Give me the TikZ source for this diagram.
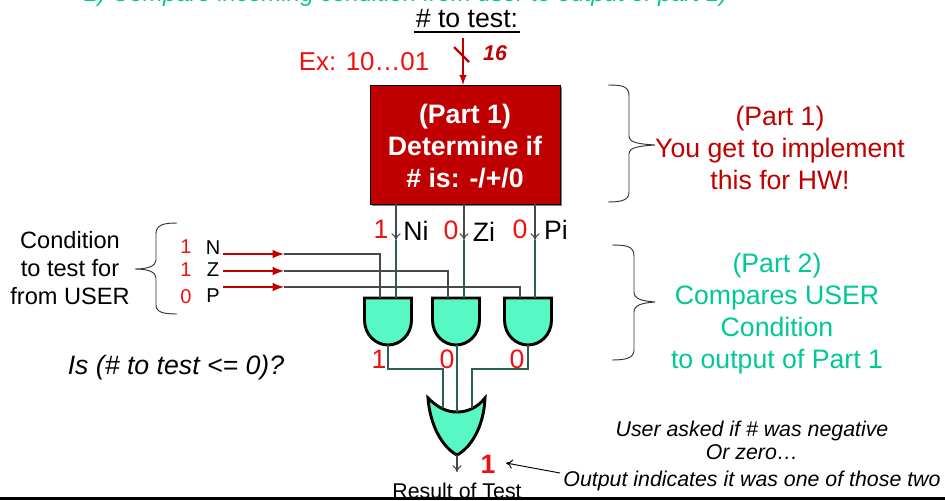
\documentclass[tikz,border=0pt]{standalone}
\usepackage{fontspec}
\usepackage{xcolor}
\setmainfont{Liberation Sans}
\usetikzlibrary{positioning, calc, arrows.meta}
\definecolor{boxred}{HTML}{C00000}
\definecolor{txtred}{HTML}{F01010}
\definecolor{teal}{HTML}{00C896}
\definecolor{gatefill}{HTML}{57F8C4}
\definecolor{wiregreen}{HTML}{2A5F58}
\definecolor{wiregray}{HTML}{484848}

\tikzset{
  >={To[length=5pt, width=7pt]},
  big/.style={font=\fontsize{20}{24}\selectfont, align=center, inner sep=0pt},
  mid/.style={font=\fontsize{17.7}{21}\selectfont, align=center, inner sep=0pt},
  small/.style={font=\fontsize{15}{18}\selectfont, inner sep=0pt},
  redval/.style={font=\fontsize{20}{22}\selectfont, text=txtred, inner sep=0pt},
  flagval/.style={font=\fontsize{15}{17}\selectfont, text=txtred, inner sep=0pt},
  gate/.style={draw=black, line width=2.2pt, fill=gatefill, line join=miter},
  wire/.style={draw=wiregray, line width=0.8pt},
  greenwire/.style={draw=wiregreen, line width=1pt},
  redwire/.style={draw=boxred, line width=1.9pt, -latex},
  bracket/.style={draw=black!80, line width=0.7pt},
  andgate/.pic={
    \path[gate] (-23.5,0) -- (23.5,0) -- (23.5,22)
      .. controls (23.5,37) and (12,47) .. (0,47)
      .. controls (-12,47) and (-23.5,37) .. (-23.5,22) -- cycle;
    \coordinate (-a) at (-8,0);
    \coordinate (-b) at (8,0);
    \coordinate (-out) at (0,47);
  }
}

\begin{document}
\begin{tikzpicture}[x=0.75pt, y=-0.75pt]
  \useasboundingbox (0,0) rectangle (945,500);

  % Titel oben
  \node[big, text=teal, font=\fontsize{18}{21}\itshape\selectfont] (title) at (406,-5) {2) Compare incoming condition from user to output of part 1)};

  % Eingang
  \node[big] (numtest) at (467,19) {\# to test:};
  \draw[line width=1.5pt] (414,32) -- (520,32);
  \node[big, text=txtred, font=\fontsize{19.4}{22}\selectfont] (example) at (364,62) {Ex: 10…01};
  \node[small, text=boxred, font=\fontsize{16}{18}\bfseries\itshape\selectfont] (width) at (495,53) {16};

  % Part 1 Box
  \fill[gray] (372,87) rectangle (562,206);
  \node[draw=black, fill=boxred, minimum width=142.5pt, minimum height=89pt, inner sep=0pt] (partone) at (465,144.5) {};
  \node[text=white, inner sep=0pt, font=\fontsize{20}{24}\bfseries\selectfont, align=center] (partlabel) at (465,146.5) {(Part 1)\\Determine if\\\# is: -/+/0};

  \coordinate (inp) at (463,38);
  \draw[redwire, line width=1.6pt] (inp) -- (inp |- partone.north);
  \coordinate (slasha) at (454,47);
  \coordinate (slashb) at (469,62);
  \draw[draw=boxred, line width=1.6pt] (slasha) -- (slashb);

  % Gatter
  \pic (gateN) at (388,298) {andgate};
  \pic (gateZ) at (456,298) {andgate};
  \pic (gateP) at (528,298) {andgate};

  % Ausgaenge von Part 1
  \coordinate (tipN) at (396,240);
  \coordinate (tipZ) at (464,240);
  \coordinate (tipP) at (535,240);
  \draw[wire, ->] (tipN |- partone.south) -- (tipN);
  \draw[wire, ->] (tipZ |- partone.south) -- (tipZ);
  \draw[wire, ->] (tipP |- partone.south) -- (tipP);
  \draw[greenwire] (tipN) -- (gateN-b);
  \draw[greenwire] (tipZ) -- (gateZ-b);
  \draw[greenwire] (tipP) -- (tipP |- gateP-b);

  \node[redval] (valni) at (381,229) {1};
  \node[big] (ni) at (416,231) {Ni};
  \node[redval] (valzi) at (451,230) {0};
  \node[big] (zi) at (484,232) {Zi};
  \node[redval] (valpi) at (520,229) {0};
  \node[big] (pi) at (556,230) {Pi};

  % Benutzer Eingaenge
  \node[small] (flagn) at (213,248) {N};
  \node[small] (flagz) at (213,270) {Z};
  \node[small] (flagp) at (213,296) {P};
  \node[flagval] (valn) at (186,247) {1};
  \node[flagval] (valz) at (186,270) {1};
  \node[flagval] (valp) at (186,297) {0};

  \coordinate (startn) at (223,254);
  \coordinate (startz) at (223,271);
  \coordinate (startp) at (223,287);
  \coordinate (endn) at (284,254);
  \coordinate (endz) at (284,271);
  \coordinate (endp) at (284,287);
  \draw[wire] (endn) -| (gateN-a);
  \draw[wire] (endz) -| (gateZ-a);
  \draw[wire] (endp) -| (gateP-a);
  \draw[redwire] (startn) -- (endn);
  \draw[redwire] (startz) -- (endz);
  \draw[redwire] (startp) -- (endp);

  % ODER Gatter
  \path[gate] (428,398) .. controls (438,408) and (447,412) .. (457,412)
    .. controls (467,412) and (477,408) .. (485,398)
    .. controls (484,425) and (472,447) .. (457,455)
    .. controls (442,447) and (430,425) .. (428,398) -- cycle;
  \coordinate (ora) at (443,408);
  \coordinate (orb) at (457,412);
  \coordinate (orc) at (472,408);
  \coordinate (orout) at (457,455);

  \coordinate (bendN) at (443,369);
  \coordinate (bendP) at (472,369);
  \draw[greenwire] (gateN-out) |- (bendN) -- (ora);
  \draw[greenwire] (gateZ-out -| orb) -- (orb);
  \draw[greenwire] (gateP-out) |- (bendP) -- (orc);

  \node[redval] (valand1) at (379,359) {1};
  \node[redval] (valand2) at (447,359) {0};
  \node[redval] (valand3) at (517,359) {0};

  % Ergebnis
  \coordinate (resend) at (457,472);
  \draw[wire, ->] (orout) -- (resend);
  \node[small, font=\fontsize{16}{18}\selectfont] (result) at (457,491) {Result of Test};
  \node[redval, font=\fontsize{20}{22}\bfseries\selectfont] (resval) at (488,464) {1};
  \coordinate (outa) at (560,473);
  \coordinate (outb) at (506,463);
  \draw[->, line width=0.7pt] (outa) -- (outb);

  % Klammern
  \draw[bracket] (608,85) .. controls (622,85) and (629,86) .. (629,96) -- (629,136)
    .. controls (629,143) and (640,144) .. (655,145)
    .. controls (640,146) and (629,147) .. (629,154) -- (629,192)
    .. controls (629,200) and (622,202) .. (608,202);
  \draw[bracket] (612,245) .. controls (626,245) and (634,246) .. (634,256) -- (634,292)
    .. controls (634,299) and (642,301) .. (655,302)
    .. controls (642,303) and (634,305) .. (634,312) -- (634,350)
    .. controls (634,358) and (626,360) .. (612,360);
  \draw[bracket] (177,223) .. controls (163,223) and (156,225) .. (156,234) -- (156,260)
    .. controls (156,266) and (148,269) .. (135,269)
    .. controls (148,269) and (156,272) .. (156,278) -- (156,305)
    .. controls (156,312) and (163,314) .. (177,314);

  % Text
  \node[mid] (condition) at (70,240) {Condition};
  \node[mid] (totest) at (70,268) {to test for};
  \node[mid] (fromuser) at (70,296) {from USER};
  \node[big, font=\fontsize{20}{24}\itshape\selectfont] (question) at (176,368) {Is (\# to test <= 0)?};
  \node[big, text=boxred] (parttext) at (780,148) {(Part 1)\\You get to implement\\this for HW!};
  \node[big, text=teal] (comparetext) at (777,314) {(Part 2)\\Compares USER\\Condition\\to output of Part 1};
  \node[small, align=center, font=\fontsize{16}{17.5}\itshape\selectfont] (usertext) at (752,440.5) {User asked if \# was negative\\Or zero…};
  \node[small, font=\fontsize{16}{19}\itshape\selectfont] (outtext) at (752,481) {Output indicates it was one of those two};

  % Linie unten
  \draw[line width=2.5pt] (0,498.5) -- (945,498.5);
\end{tikzpicture}
\end{document}
